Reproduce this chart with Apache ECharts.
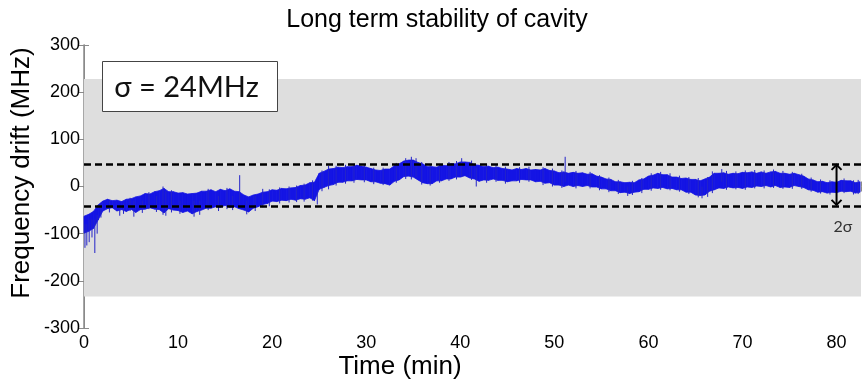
<!DOCTYPE html>
<html>
<head>
<meta charset="utf-8">
<script src="https://cdn.jsdelivr.net/npm/echarts@6/dist/echarts.min.js"></script>
<style>html,body{margin:0;padding:0;background:#fff}#c{width:864px;height:388px}</style>
</head>
<body>
<div id="c"></div>
<script>
// ---------- data ----------
const time = [0,0.5,1,1.5,2,2.5,3,3.5,4,4.5,5,5.5,6,6.5,7,7.5,8,8.5,9,9.5,10,10.5,11,11.5,12,12.5,13,13.5,14,14.5,15,15.5,16,16.5,17,17.5,18,18.5,19,19.5,20,20.5,21,21.5,22,22.5,23,23.5,24,24.5,25,25.5,26,26.5,27,27.5,28,28.5,29,29.5,30,30.5,31,31.5,32,32.5,33,33.5,34,34.5,35,35.5,36,36.5,37,37.5,38,38.5,39,39.5,40,40.5,41,41.5,42,42.5,43,43.5,44,44.5,45,45.5,46,46.5,47,47.5,48,48.5,49,49.5,50,50.5,51,51.5,52,52.5,53,53.5,54,54.5,55,55.5,56,56.5,57,57.5,58,58.5,59,59.5,60,60.5,61,61.5,62,62.5,63,63.5,64,64.5,65,65.5,66,66.5,67,67.5,68,68.5,69,69.5,70,70.5,71,71.5,72,72.5,73,73.5,74,74.5,75,75.5,76,76.5,77,77.5,78,78.5,79,79.5,80,80.5,81,81.5,82,82.5];
// upper / lower edge of the dense noise band (MHz)
const driftHigh = [-63,-59,-53,-39,-31,-27,-30,-29,-32,-27,-26,-22,-20,-15,-16,-11,-9,-4,-11,-11,-14,-13,-16,-15,-14,-10,-10,-7,-11,-6,-9,-5,-10,-11,-18,-22,-18,-16,-12,-11,-7,-8,-4,-5,-3,-2,2,3,8,9,28,32,37,38,41,40,42,42,45,43,41,38,35,34,37,37,44,48,54,56,56,51,48,42,42,41,45,44,48,48,52,52,51,46,45,42,43,40,41,38,37,35,38,36,38,35,36,35,38,34,33,29,31,28,30,28,29,26,27,22,20,16,15,10,10,8,9,8,14,16,22,24,28,25,25,20,20,17,18,15,15,12,16,20,28,28,29,26,28,27,30,29,31,28,31,28,31,32,28,28,26,28,25,22,16,14,10,11,8,10,9,13,12,12,8,10];
const driftLow = [-99,-95,-89,-71,-52,-47,-45,-52,-49,-53,-48,-55,-49,-48,-45,-48,-49,-56,-47,-50,-51,-55,-52,-58,-53,-50,-46,-46,-43,-44,-40,-44,-43,-47,-50,-54,-46,-43,-38,-36,-31,-32,-29,-30,-27,-29,-26,-27,-24,-30,-6,-2,2,4,9,9,12,12,15,14,14,10,10,7,6,3,11,14,21,22,20,14,8,6,6,12,12,16,16,20,20,23,18,16,11,14,13,16,13,13,10,12,12,15,14,14,10,11,7,8,3,3,0,3,0,2,0,2,-1,-1,-5,-5,-9,-9,-13,-12,-15,-12,-11,-6,-6,-3,-4,-2,-5,-4,-7,-7,-12,-12,-18,-19,-18,-10,-7,-3,-4,-1,-3,-2,-4,-1,-2,1,0,2,-1,2,-2,-1,-2,2,0,-2,-7,-8,-12,-11,-14,-12,-13,-10,-11,-10,-14,-12];
// isolated spikes / hairs sticking out of the band (time, low, high)
const spikeTime = [0.1,0.3,0.55,0.85,1.15,1.4,1.8,2.7,3.8,4.2,4.9,5.3,6.2,6.9,7.7,8.4,8.7,9.3,10.2,11.7,12.3,13.2,14.3,15.2,15.8,16.55,17.3,18.2,19.0,19.7,20.8,21.8,22.6,23.4,24.3,24.8,25.3,26.0,26.8,27.8,28.7,29.8,30.8,31.8,33.2,34.2,34.8,35.3,35.9,36.8,37.8,38.8,39.6,40.15,41.2,41.7,42.8,43.8,44.8,46.3,47.3,48.8,49.8,50.8,51.15,52.3,53.8,54.8,55.8,56.8,57.8,58.3,59.3,60.3,61.3,62.3,63.3,64.3,65.3,65.7,66.3,66.8,67.8,68.3,69.3,70.3,71.3,72.3,73.3,74.3,75.3,76.3,77.3,78.3,79.3,80.8,81.8,82.3];
const spikeLow  = [-130,-125,-118,-108,-141,-100,-66,-55,-62,-58,-52,-64,-56,-48,-54,-60,-62,-55,-58,-64,-60,-50,-52,-48,-50,-30,-59,-52,-44,-42,-36,-34,-33,-32,-30,-38,-10,-6,2,6,8,9,5,3,8,16,15,20,4,2,8,12,15,20,14,0,8,10,6,8,10,3,0,-3,10,-4,-4,-8,-12,-16,-20,-18,-14,-9,-7,-8,-11,-16,-23,-25,-22,-14,10,-7,-6,-7,-4,-4,-3,-5,-5,-5,-11,-15,-17,-14,-17,-16];
const spikeHigh = [-80,-80,-70,-70,-70,-60,-36,-30,-40,-36,-24,-30,-30,-12,-20,0,-10,-8,-30,-30,-30,-5,-20,-3,-20,24,-30,-20,-5,-6,-2,0,2,6,13,-10,34,44,44,46,48,46,40,40,50,60,63,60,52,46,48,52,54,60,55,40,47,45,42,41,42,41,38,34,63,33,31,24,19,14,0,12,18,28,31,28,23,20,18,0,20,32,37,33,32,34,35,34,36,33,31,27,19,15,13,17,13,14];
// reference levels
const sigmaLevels = [48, -41];      // dashed lines
const grayBand = [-233, 228];       // shaded region
const arrowTime = [80];
const xTicks = [0,10,20,30,40,50,60,70,80];
const yTicks = [-300,-200,-100,0,100,200,300];
const xMax = 82.6;

// ---------- chart ----------
const BLUE = '#1414e4';
const GRAYLINE = '#8a8a8a';
const chart = echarts.init(document.getElementById('c'), null, {renderer: 'canvas'});

const bandData = time.map((t, i) => [t, driftLow[i], driftHigh[i]]);
const spikeData = spikeTime.map((t, i) => [t, spikeLow[i], spikeHigh[i]]);
const arrowData = arrowTime.map(t => [t, sigmaLevels[0], sigmaLevels[1]]);

const axisFont = {fontFamily: 'Liberation Sans, Arial, sans-serif', fontSize: 18, color: '#000'};

chart.setOption({
  animation: false,
  backgroundColor: '#fff',
  title: {
    text: 'Long term stability of cavity',
    left: 432, top: 3, textAlign: 'center',
    textStyle: {fontFamily: 'Liberation Sans, Arial, sans-serif', fontSize: 25, fontWeight: 'normal', color: '#000'}
  },
  grid: {left: 84, right: 1, top: 45, bottom: 60, containLabel: false},
  xAxis: [{
    type: 'value', min: 0, max: xMax, interval: 10, position: 'bottom',
    axisLine: {show: true, lineStyle: {color: GRAYLINE, width: 1.5}},
    axisTick: {show: true, inside: true, length: 5, lineStyle: {color: GRAYLINE}},
    axisLabel: Object.assign({margin: 6, formatter: v => xTicks.includes(v) ? String(v) : ''}, axisFont),
    splitLine: {show: false}
  }, {
    type: 'value', min: 0, max: xMax, interval: 10, position: 'top',
    axisLine: {show: true, lineStyle: {color: GRAYLINE, width: 1}},
    axisTick: {show: true, inside: true, length: 5, lineStyle: {color: GRAYLINE}},
    axisLabel: {show: false}, splitLine: {show: false}
  }],
  yAxis: [{
    type: 'value', min: -300, max: 300, interval: 100, position: 'left',
    axisLine: {show: true, lineStyle: {color: GRAYLINE, width: 1.5}},
    axisTick: {show: true, inside: true, length: 5, lineStyle: {color: GRAYLINE}},
    axisLabel: Object.assign({margin: 4, formatter: v => yTicks.includes(v) ? String(v) : ''}, axisFont),
    splitLine: {show: false}
  }, {
    type: 'value', min: -300, max: 300, interval: 100, position: 'right',
    axisLine: {show: true, lineStyle: {color: GRAYLINE, width: 1}},
    axisTick: {show: true, inside: true, length: 5, lineStyle: {color: GRAYLINE}},
    axisLabel: {show: false}, splitLine: {show: false}
  }],
  series: [
    {
      type: 'line', data: [], z: 1, silent: true,
      markArea: {
        silent: true,
        itemStyle: {color: '#dedede'},
        data: [[{yAxis: grayBand[0]}, {yAxis: grayBand[1]}]]
      }
    },
    {
      type: 'custom', z: 3, silent: true,
      data: bandData,
      encode: {x: 0, y: [1, 2]},
      renderItem: function (params, api) {
        const i = params.dataIndex;
        if (i >= time.length - 1) return null;
        const pts = [
          api.coord([time[i], driftHigh[i]]), api.coord([time[i + 1], driftHigh[i + 1]]),
          api.coord([time[i + 1], driftLow[i + 1]]), api.coord([time[i], driftLow[i]])
        ];
        return {type: 'polygon', shape: {points: pts}, style: {fill: BLUE, stroke: BLUE, lineWidth: 0.8}};
      }
    },
    {
      type: 'custom', z: 3, silent: true,
      data: spikeData,
      encode: {x: 0, y: [1, 2]},
      renderItem: function (params, api) {
        const a = api.coord([api.value(0), api.value(1)]);
        const b = api.coord([api.value(0), api.value(2)]);
        return {type: 'line', shape: {x1: a[0], y1: a[1], x2: b[0], y2: b[1]}, style: {stroke: '#2424c8', lineWidth: 1}};
      }
    },
    {
      type: 'line', data: [], z: 4, silent: true,
      markLine: {
        silent: true, symbol: ['none', 'none'], label: {show: false},
        lineStyle: {color: '#000', width: 2.5, type: [7, 4]},
        data: sigmaLevels.map(v => ({yAxis: v}))
      }
    },
    {
      type: 'custom', z: 5, silent: true,
      data: arrowData,
      encode: {x: 0, y: [1, 2]},
      renderItem: function (params, api) {
        const top = api.coord([api.value(0), api.value(1)]);
        const bot = api.coord([api.value(0), api.value(2)]);
        const x = top[0], h = 5, w = 5;
        const st = {stroke: '#000', lineWidth: 2, fill: null};
        return {type: 'group', children: [
          {type: 'line', shape: {x1: x, y1: top[1] + 1, x2: x, y2: bot[1] - 1}, style: st},
          {type: 'polyline', shape: {points: [[x - w, top[1] + h + 1], [x, top[1] + 1], [x + w, top[1] + h + 1]]}, style: st},
          {type: 'polyline', shape: {points: [[x - w, bot[1] - h - 1], [x, bot[1] - 1], [x + w, bot[1] - h - 1]]}, style: st}
        ]};
      }
    }
  ],
  graphic: [
    {
      type: 'group', left: 102, top: 61, zlevel: 2, z: 100,
      children: [
        {type: 'rect', zlevel: 2, z: 100, shape: {x: 0, y: 0, width: 175, height: 50}, style: {fill: '#fff', stroke: '#444', lineWidth: 1}},
        {type: 'text', zlevel: 2, z: 101, x: 84, y: 26, style: {text: 'σ = 24MHz', fontFamily: 'Lato, Open Sans, sans-serif', fontSize: 29, fill: '#111', align: 'center', verticalAlign: 'middle'}}
      ]
    },
    {type: 'text', x: 843, y: 227, zlevel: 2, style: {text: '2σ', fontFamily: 'Lato, Open Sans, sans-serif', fontSize: 16, fill: '#333', align: 'center', verticalAlign: 'middle'}},
    {type: 'text', x: 400, y: 367, zlevel: 2, style: {text: 'Time (min)', fontFamily: 'Liberation Sans, Arial, sans-serif', fontSize: 26, fill: '#000', align: 'center', verticalAlign: 'middle'}},
    {type: 'text', x: 22, y: 173, rotation: Math.PI / 2, zlevel: 2, style: {text: 'Frequency drift (MHz)', fontFamily: 'Liberation Sans, Arial, sans-serif', fontSize: 26, fill: '#000', align: 'center', verticalAlign: 'middle'}}
  ]
});
</script>
</body>
</html>
